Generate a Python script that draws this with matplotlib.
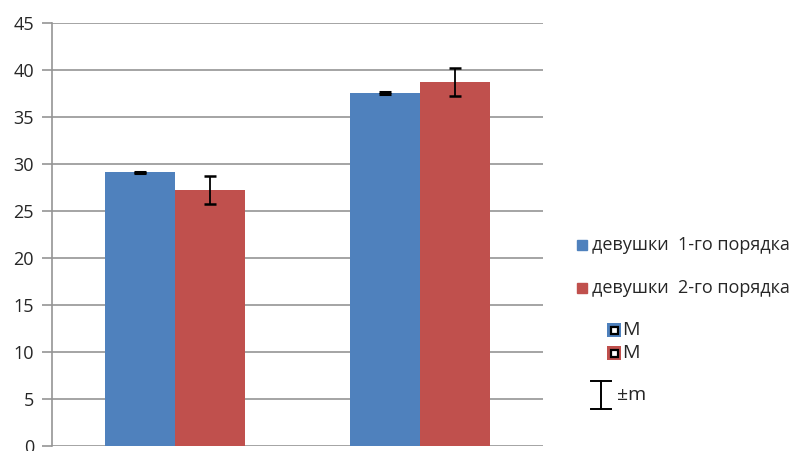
import matplotlib
matplotlib.use("Agg")
import matplotlib.pyplot as plt
import numpy as np
from matplotlib.patches import Rectangle
from matplotlib.lines import Line2D

plt.rcParams['font.family'] = ['Open Sans', 'DejaVu Sans']

categories = ["1", "2"]
series_names = ["девушки  1-го порядка", "девушки  2-го порядка"]
means_1 = [29.1, 37.6]
err_1 = [0.1, 0.1]
means_2 = [27.2, 38.7]
err_2 = [1.5, 1.5]
yticks = [0, 5, 10, 15, 20, 25, 30, 35, 40, 45]

blue = "#4F81BD"
red = "#C0504D"
grid_c = "#959595"
txt_c = "#262626"

fig = plt.figure(figsize=(8.03, 4.51), dpi=100)
ax = fig.add_axes([52/803, 1-446/451, (543-52)/803, (446-23)/451])

x = np.arange(len(categories))
w = 0.285
ax.bar(x - w/2, means_1, w, color=blue, zorder=3)
ax.bar(x + w/2, means_2, w, color=red, zorder=3)
ax.errorbar(x - w/2, means_1, yerr=err_1, fmt='none', ecolor='black', elinewidth=1.3, capsize=4.5, capthick=2.2, zorder=4)
ax.errorbar(x + w/2, means_2, yerr=err_2, fmt='none', ecolor='black', elinewidth=1.3, capsize=4.5, capthick=1.8, zorder=4)

ax.set_xlim(-0.5, 1.5)
ax.set_ylim(0, 45)
ax.set_yticks(yticks)
ax.set_yticklabels([str(t) for t in yticks], fontsize=13, color=txt_c)
ax.set_xticks([])
ax.yaxis.grid(True, color=grid_c, linewidth=1.2, zorder=0)
for s in ['top', 'right', 'bottom']:
    ax.spines[s].set_visible(False)
ax.spines['left'].set_color(grid_c)
ax.spines['left'].set_linewidth(1.2)
ax.tick_params(axis='y', length=7, width=1.2, color=grid_c, pad=6)

def fx(px): return px/803
def fy(py): return 1 - py/451

fig.patches.append(Rectangle((fx(577), fy(250)), 10/803, 10/451, transform=fig.transFigure, color=blue, figure=fig))
fig.text(fx(592), fy(245), series_names[0], fontsize=13, va='center', ha='left', color=txt_c)
fig.patches.append(Rectangle((fx(577), fy(293)), 10/803, 10/451, transform=fig.transFigure, color=red, figure=fig))
fig.text(fx(592), fy(288), series_names[1], fontsize=13, va='center', ha='left', color=txt_c)

for py, c in [(330, blue), (353, red)]:
    fig.patches.append(Rectangle((fx(607), fy(py+7)), 14/803, 14/451, transform=fig.transFigure,
                                 facecolor=c, edgecolor='none', figure=fig))
    fig.patches.append(Rectangle((fx(610.5), fy(py+3.5)), 7/803, 7/451, transform=fig.transFigure,
                                 facecolor='white', edgecolor='black', linewidth=1.6, figure=fig))
    fig.text(fx(622), fy(py), "M", fontsize=14, va='center', ha='left', color=txt_c)

fig.lines.append(Line2D([fx(601), fx(601)], [fy(381), fy(409)], transform=fig.transFigure, color='black', lw=1.4))
fig.lines.append(Line2D([fx(591), fx(611)], [fy(381), fy(381)], transform=fig.transFigure, color='black', lw=1.4))
fig.lines.append(Line2D([fx(591), fx(611)], [fy(409), fy(409)], transform=fig.transFigure, color='black', lw=1.4))
fig.text(fx(617), fy(395), "±m", fontsize=14, va='center', ha='left', color=txt_c)

fig.savefig("out.png", dpi=100)
